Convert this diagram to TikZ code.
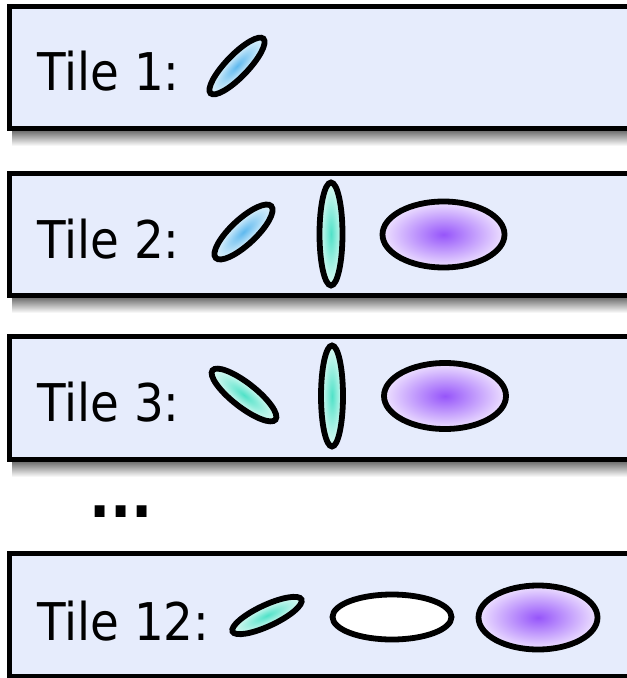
\documentclass[tikz,border=0pt]{standalone}
\usepackage{fontspec}
\setmainfont{DejaVu Sans}[FakeStretch=0.9]

\definecolor{tilebg}{RGB}{230,236,252}
\definecolor{celeste}{RGB}{95,185,238}
\definecolor{celestechiaro}{RGB}{226,243,252}
\definecolor{acqua}{RGB}{80,226,200}
\definecolor{acquachiaro}{RGB}{222,250,244}
\definecolor{viola}{RGB}{150,85,250}
\definecolor{violachiaro}{RGB}{238,226,255}

\tikzset{
  tile/.style={draw=black, line width=2.5pt, fill=tilebg},
  ombra/.style={top color=black!55, bottom color=white},
  etichetta/.style={anchor=base west, inner sep=0pt},
  bordo/.style={draw=black, line width=2.9pt},
  blu/.style={bordo, inner color=celeste, outer color=celestechiaro},
  verde/.style={bordo, inner color=acqua, outer color=acquachiaro},
  lilla/.style={bordo, inner color=viola, outer color=violachiaro},
}

\begin{document}
\begin{tikzpicture}[x=0.5pt, y=-0.5pt, font=\fontsize{26pt}{30pt}\selectfont]

\useasboundingbox (0,0) rectangle (626,678);

% Tile 1
\shade[ombra] (12,131) rectangle (660,146); % ombra
\draw[tile] (9.5,6.5) rectangle (660,128.5);
\node[etichetta] (t1) at (37,91) {Tile 1:};
\begin{scope}[transform canvas={shift={(237,66)}, rotate=46}]
  \shadedraw[blu] (0,0) ellipse (38 and 11);
\end{scope}

% Tile 2
\shade[ombra] (12,298) rectangle (660,313); % ombra
\draw[tile] (9.5,173.5) rectangle (660,295.5);
\node[etichetta] (t2) at (37,258) {Tile 2:};
\begin{scope}[transform canvas={shift={(243.5,232)}, rotate=43}]
  \shadedraw[blu] (0,0) ellipse (38 and 12.5);
\end{scope}
\shadedraw[verde] (331,234) ellipse (11.5 and 51.5); % verticale
\shadedraw[lilla] (443.5,234.5) ellipse (61 and 33);

% Tile 3
\shade[ombra] (12,462) rectangle (660,477); % ombra
\draw[tile] (9.5,336.5) rectangle (660,459.5);
\node[etichetta] (t3) at (37,421.5) {Tile 3:};
\begin{scope}[transform canvas={shift={(244,395)}, rotate=-38}]
  \shadedraw[verde] (0,0) ellipse (40 and 12);
\end{scope}
\shadedraw[verde] (332,396) ellipse (11 and 50.5); % verticale
\shadedraw[lilla] (445,396) ellipse (61 and 33);

% Puntini
\node[anchor=base, inner sep=0pt, font=\fontsize{31pt}{34pt}\selectfont\bfseries] (puntini) at (121,517) {...};

% Tile 12
\draw[tile] (9.5,553.5) rectangle (660,676);
\node[etichetta] (t12) at (37,640) {Tile 12:};
\begin{scope}[transform canvas={shift={(267,615.5)}, rotate=25}]
  \shadedraw[verde] (0,0) ellipse (38 and 10.5);
\end{scope}
\draw[bordo, fill=white] (392,617) ellipse (59.5 and 22.5); % vuota
\shadedraw[lilla] (538,617.5) ellipse (59.5 and 32);

\end{tikzpicture}
\end{document}
